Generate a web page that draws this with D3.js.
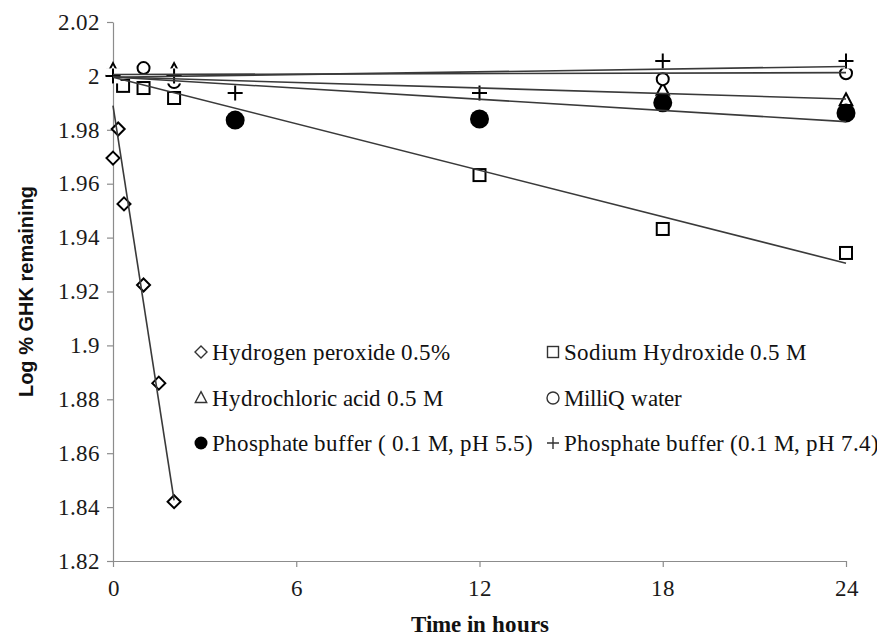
<!DOCTYPE html>
<html lang="en">
<head>
<meta charset="utf-8">
<script src="https://cdn.jsdelivr.net/npm/d3@7"></script>
<style>
  @font-face { font-family: "ChartSerif"; font-weight: normal; font-display: swap;
    src: local("Liberation Serif"), local("LiberationSerif"), local("Times New Roman"); }
  @font-face { font-family: "ChartSerif"; font-weight: bold; font-display: swap;
    src: local("Liberation Serif Bold"), local("LiberationSerif-Bold"), local("Times New Roman Bold"); }
</style>
</head>
<body style="margin:0">
<svg width="877" height="638"></svg>
<script>
// Data (time in hours, log % GHK remaining)
const h2o2T = [0, 0.17, 0.36, 1, 1.5, 2];
const h2o2V = [1.9695, 1.9803, 1.9525, 1.9224, 1.886, 1.842];
const naohT = [0, 0.33, 1, 2, 12, 18, 24];
const naohV = [2.0, 1.9963, 1.9955, 1.9918, 1.9632, 1.9432, 1.9343];
const hclT = [0, 2, 18, 24];
const hclV = [2.0022, 2.0022, 1.9948, 1.991];
const waterT = [0, 1, 2, 18, 24];
const waterV = [2.0, 2.0029, 1.9977, 1.9988, 2.001];
const pb55T = [4, 12, 18, 24];
const pb55V = [1.9836, 1.984, 1.990, 1.9862];
const pb74T = [0, 2, 4, 12, 18, 24];
const pb74V = [2.0, 2.0, 1.9937, 1.9937, 2.0055, 2.0055];

// Linear trendlines: intercept, slope, end time
const trendIntercept = [1.989, 1.9995, 1.9996, 2.0005, 1.9996, 1.9995];
const trendSlope = [-0.07325, -0.002875, -0.00034, 0.00003, -0.00069, 0.000167];
const trendEnd = [2, 24, 24, 24, 24, 24];

const seriesNames = [
  "Hydrogen peroxide 0.5%",
  "Sodium Hydroxide 0.5 M",
  "Hydrochloric acid 0.5 M",
  "MilliQ water",
  "Phosphate buffer ( 0.1 M, pH 5.5)",
  "Phosphate buffer (0.1 M, pH 7.4)"
];
const markerTypes = ["diamond", "square", "triangle", "circle", "dot", "plus"];

const xTicks = [0, 6, 12, 18, 24];
const yTicks = [1.82, 1.84, 1.86, 1.88, 1.9, 1.92, 1.94, 1.96, 1.98, 2, 2.02];

const seriesT = [h2o2T, naohT, hclT, waterT, pb55T, pb74T];
const seriesV = [h2o2V, naohV, hclV, waterV, pb55V, pb74V];

// Layout
const W = 877, H = 638;
const margin = { l: 113, r: 31, t: 22, b: 77 };
const SERIF = "ChartSerif, Liberation Serif, Times New Roman, serif";
const SANS = "Liberation Sans, Arial, sans-serif";

const svg = d3.select("svg");

const x = d3.scaleLinear().domain([0, 24]).range([margin.l, W - margin.r]);
const y = d3.scaleLinear().domain([1.82, 2.02]).range([H - margin.b, margin.t]);

// Axes
const yAxis = svg.append("g")
  .attr("transform", `translate(${margin.l},0)`)
  .call(d3.axisLeft(y).tickValues(yTicks).tickSize(6).tickSizeOuter(0).tickPadding(7)
    .tickFormat(d => String(+d.toFixed(2))));

const xAxis = svg.append("g")
  .attr("transform", `translate(0,${H - margin.b})`)
  .call(d3.axisBottom(x).tickValues(xTicks).tickSize(6).tickSizeOuter(0).tickPadding(13));

[xAxis, yAxis].forEach(ax => {
  ax.select(".domain").attr("stroke", "#8c8c8c").attr("stroke-width", 1.2);
  ax.selectAll(".tick line").attr("stroke", "#8c8c8c").attr("stroke-width", 1.2);
  ax.selectAll(".tick text")
    .attr("fill", "#1a1a1a")
    .style("font-family", SERIF)
    .style("font-size", "22.5px");
});

// Axis titles
svg.append("text")
  .attr("x", (x(0) + x(24)) / 2)
  .attr("y", 632)
  .attr("text-anchor", "middle")
  .style("font-family", SERIF)
  .style("font-weight", "bold")
  .style("font-size", "23px")
  .attr("fill", "#111")
  .text("Time in hours");

svg.append("text")
  .attr("transform", `translate(33,${(y(1.82) + y(2.02)) / 2}) rotate(-90)`)
  .attr("text-anchor", "middle")
  .style("font-family", SANS)
  .style("font-weight", "bold")
  .style("font-size", "20px")
  .attr("fill", "#111")
  .text("Log %  GHK remaining");

// Marker drawing
function drawMarker(g, type, cx, cy, s, sw, col) {
  const m = g.append("g").attr("transform", `translate(${cx},${cy})`);
  const stroke = col || "#000";
  if (type === "diamond") {
    m.append("path").attr("d", `M0,${-s}L${s},0L0,${s}L${-s},0Z`)
      .attr("fill", "#fff").attr("stroke", stroke).attr("stroke-width", sw);
  } else if (type === "square") {
    m.append("rect").attr("x", -s).attr("y", -s).attr("width", 2 * s).attr("height", 2 * s)
      .attr("fill", "#fff").attr("stroke", stroke).attr("stroke-width", sw);
  } else if (type === "triangle") {
    m.append("path").attr("d", `M0,${-s * 1.05}L${s * 0.95},${s * 0.75}L${-s * 0.95},${s * 0.75}Z`)
      .attr("fill", "#fff").attr("stroke", stroke).attr("stroke-width", sw);
  } else if (type === "circle") {
    m.append("circle").attr("r", s)
      .attr("fill", "#fff").attr("stroke", stroke).attr("stroke-width", sw);
  } else if (type === "dot") {
    m.append("circle").attr("r", s).attr("fill", "#000");
  } else if (type === "plus") {
    m.append("rect").attr("x", -s).attr("y", -s).attr("width", 2 * s).attr("height", 2 * s)
      .attr("fill", "#fff");
    m.append("path").attr("d", `M${-s},0H${s}M0,${-s}V${s}`)
      .attr("stroke", stroke).attr("stroke-width", sw).attr("fill", "none");
  }
}

const markerSize = { diamond: 6.5, square: 6, triangle: 6.5, circle: 6, dot: 9.5, plus: 7.5 };

// Points
const pts = svg.append("g");
seriesT.forEach((ts, i) => {
  ts.forEach((t, j) => {
    drawMarker(pts, markerTypes[i], x(t), y(seriesV[i][j]), markerSize[markerTypes[i]], 2);
  });
});

// Trendlines (drawn above markers)
const line = d3.line().x(d => x(d[0])).y(d => y(d[1]));
trendIntercept.forEach((b, i) => {
  const t1 = trendEnd[i];
  svg.append("path")
    .attr("d", line([[0, b], [t1, b + trendSlope[i] * t1]]))
    .attr("fill", "none")
    .attr("stroke", "#3a3a3a")
    .attr("stroke-width", 1.6);
});

// Legend
const legX = [201, 553];
const legY = [352, 398, 443];
const legendSize = { diamond: 6, square: 5.5, triangle: 6, circle: 6, dot: 6.5, plus: 6 };
const leg = svg.append("g");
seriesNames.forEach((name, i) => {
  const cx = legX[i % 2], cy = legY[Math.floor(i / 2)];
  const mt = markerTypes[i];
  drawMarker(leg, mt, cx, cy, legendSize[mt], 1.4, "#333");
  leg.append("text")
    .attr("x", cx + 11)
    .attr("y", cy + 7.5)
    .style("font-family", SERIF)
    .style("font-size", "22.5px")
    .attr("fill", "#111")
    .text(name);
});
</script>
</body>
</html>
